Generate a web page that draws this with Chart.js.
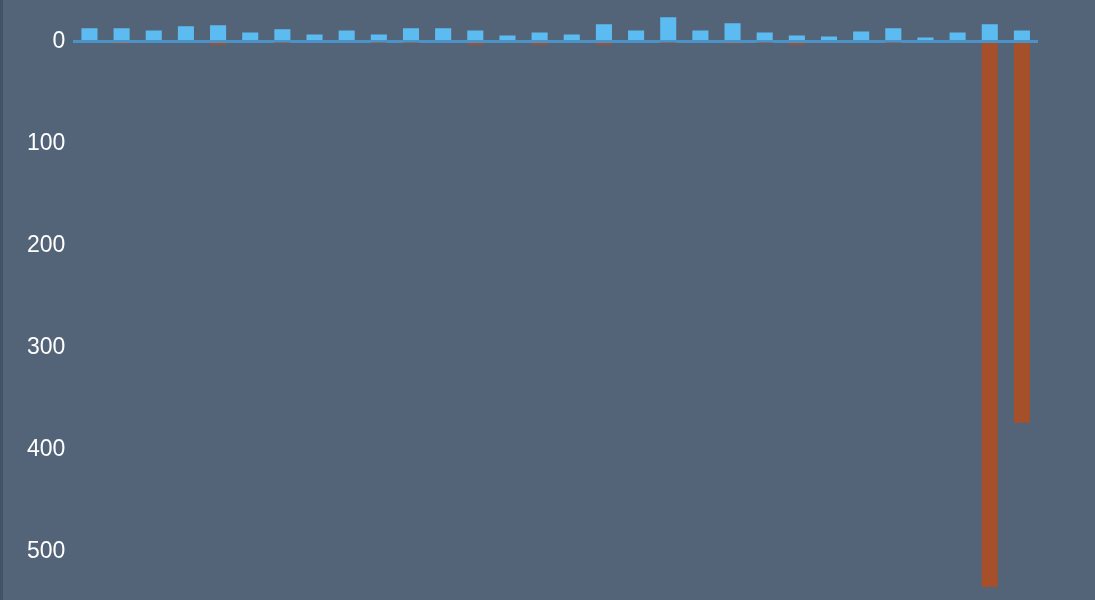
<!DOCTYPE html>
<html>
<head>
<meta charset="utf-8">
<script src="https://cdn.jsdelivr.net/npm/chart.js@4.4.1/dist/chart.umd.min.js"></script>
<style>
  html, body { margin: 0; padding: 0; background: #536479; }
  body { width: 1095px; height: 600px; overflow: hidden; border-left: 3px solid #435166; box-sizing: border-box; position: relative; }
  #wrap { position: absolute; left: 0; top: -22px; width: 1092px; height: 646px; }
</style>
</head>
<body>
<div id="wrap"><canvas id="myChart"></canvas></div>
<script>
'use strict';
let categories = ['1','2','3','4','5','6','7','8','9','10','11','12','13','14','15',
                  '16','17','18','19','20','21','22','23','24','25','26','27','28','29','30'];
// blue bars go up (negative values on the reversed axis)
let blueValues = [-13,-13,-11,-15,-16,-9,-12,-7,-11,-7,-13,-13,-11,-6,-9,
                  -7,-17,-11,-24,-11,-18,-9,-6,-5,-10,-13,-4,-9,-17,-11];
let orangeValues = [0,2,0,0,3,0,1,0,0,1,1,0,3,0,3,
                    0,3,0,1,0,2,1,3,0,0,1,0,0,535,374];
let yTicks = [0,100,200,300,400,500];

let ctx = document.getElementById('myChart').getContext('2d');
let chart = new Chart(ctx, {
  type: 'bar',
  data: {
    labels: categories,
    datasets: [
      {
        label: 'blue',
        backgroundColor: '#5cbcf2',
        data: blueValues,
        barPercentage: 0.5,
        categoryPercentage: 1
      },
      {
        label: 'orange',
        backgroundColor: '#a5502a',
        data: orangeValues,
        barPercentage: 0.5,
        categoryPercentage: 1
      }
    ]
  },
  options: {
    responsive: true,
    maintainAspectRatio: false,
    animation: false,
    layout: { padding: { left: 16, right: 57, top: 0, bottom: 0 } },
    plugins: { legend: { display: false }, tooltip: { enabled: false } },
    scales: {
      x: {
        stacked: true,
        display: false
      },
      y: {
        stacked: true,
        reverse: true,
        min: -41,
        max: 550,
        afterBuildTicks: function (axis) {
          axis.ticks = yTicks.map(function (v) { return { value: v }; });
        },
        ticks: {
          color: '#ffffff',
          padding: 8,
          font: { family: 'Liberation Sans, Arial, sans-serif', size: 23 }
        },
        border: { display: false },
        grid: {
          drawTicks: false,
          color: function (c) { return c.tick && c.tick.value === 0 ? '#4b93c6' : 'rgba(0,0,0,0)'; },
          lineWidth: function (c) { return c.tick && c.tick.value === 0 ? 3 : 0; }
        }
      }
    }
  }
});
</script>
</body>
</html>
